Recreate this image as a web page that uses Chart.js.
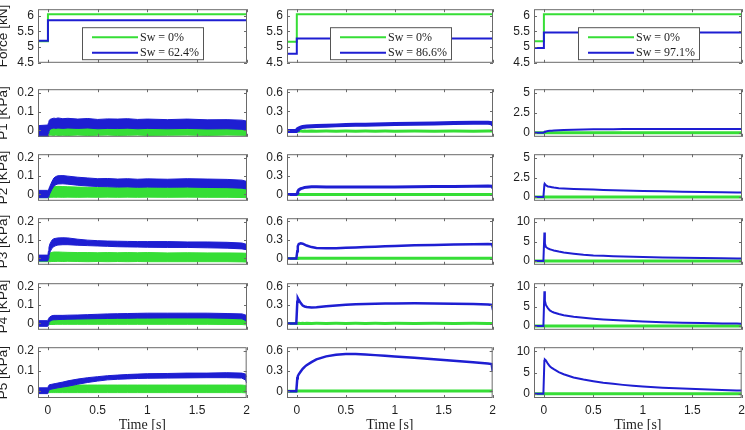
<!DOCTYPE html>
<html><head><meta charset="utf-8">
<script src="https://cdn.jsdelivr.net/npm/chart.js@4/dist/chart.umd.min.js"></script>
<style>
html,body{margin:0;padding:0;background:#fff;width:745px;height:430px;overflow:hidden;position:relative}
.p{position:absolute}
.p canvas{display:block}
</style></head><body>
<script>
// ---------------- DATA ----------------
const time = [-0.1, -0.005, 0, 0.005, 0.01, 0.02, 0.04, 0.06, 0.08, 0.1, 0.15, 0.2, 0.3, 0.4, 0.5, 0.6, 0.7, 0.8, 0.9, 1.0, 1.2, 1.4, 1.6, 1.8, 1.95, 1.99, 2.0];
const forceTime = [-0.1, 0, 0, 2];
const xTicks = [0, 0.5, 1, 1.5, 2];
const forceTicks = [4.5, 5, 5.5, 6];
const col1Ticks = [0, 0.1, 0.2];
const col2Ticks = [0, 0.3, 0.6];
const col3LowTicks = [0, 2.5, 5];
const col3HighTicks = [0, 5, 10];
const dryLabel = "Sw = 0%";
const wetLabels = ["Sw = 62.4%", "Sw = 86.6%", "Sw = 97.1%"];
const yTitles = ["Force [kN]", "P1 [KPa]", "P2 [KPa]", "P3 [KPa]", "P4 [KPa]", "P5 [KPa]"];
const xTitle = "Time [s]";

// Force (kN)
const forceDry62 = [5.18, 5.18, 6.04, 6.04];
const forceWet62 = [5.2, 5.2, 5.85, 5.85];
const forceDry87 = [5.17, 5.17, 6.04, 6.04];
const forceWet87 = [4.79, 4.79, 5.27, 5.27];
const forceDry97 = [5.18, 5.18, 6.04, 6.04];
const forceWet97 = [4.97, 4.97, 5.46, 5.46];

// Sw = 62.4% column: noisy signals as lower / upper envelopes (kPa)
const p1WetHi62 = [0.025, 0.028, 0.03, 0.04, 0.05, 0.058, 0.062, 0.065, 0.063, 0.066, 0.062, 0.064, 0.06, 0.063, 0.058, 0.061, 0.06, 0.062, 0.058, 0.06, 0.057, 0.06, 0.056, 0.057, 0.054, 0.05, 0.045];
const p1WetLo62 = [-0.035, -0.035, -0.03, -0.015, -0.005, 0.005, 0.01, 0.012, 0.01, 0.012, 0.01, 0.012, 0.01, 0.012, 0.008, 0.01, 0.009, 0.011, 0.008, 0.01, 0.008, 0.01, 0.007, 0.008, 0.005, 0.0, -0.005];
const p1DryHi62 = [0.0, 0.0, 0.005, 0.01, 0.015, 0.018, 0.02, 0.02, 0.018, 0.02, 0.018, 0.02, 0.018, 0.02, 0.016, 0.02, 0.018, 0.02, 0.017, 0.02, 0.017, 0.018, 0.016, 0.017, 0.015, 0.012, 0.01];
const p1DryLo62 = [-0.03, -0.03, -0.03, -0.028, -0.028, -0.026, -0.027, -0.028, -0.026, -0.028, -0.027, -0.028, -0.026, -0.028, -0.027, -0.026, -0.028, -0.027, -0.026, -0.028, -0.027, -0.026, -0.028, -0.026, -0.027, -0.028, -0.03];

const p2WetHi62 = [0.022, 0.022, 0.022, 0.025, 0.032, 0.045, 0.07, 0.09, 0.098, 0.102, 0.103, 0.1, 0.094, 0.09, 0.086, 0.087, 0.084, 0.086, 0.083, 0.085, 0.083, 0.086, 0.084, 0.082, 0.078, 0.072, 0.066];
const p2WetLo62 = [-0.018, -0.018, -0.018, -0.015, -0.008, 0.005, 0.028, 0.045, 0.053, 0.057, 0.058, 0.056, 0.05, 0.046, 0.043, 0.042, 0.04, 0.041, 0.039, 0.04, 0.039, 0.04, 0.038, 0.037, 0.034, 0.03, 0.026];
const p2DryHi62 = [0.01, 0.01, 0.012, 0.02, 0.028, 0.035, 0.04, 0.042, 0.043, 0.044, 0.043, 0.042, 0.04, 0.039, 0.038, 0.039, 0.038, 0.039, 0.038, 0.038, 0.037, 0.038, 0.037, 0.037, 0.035, 0.032, 0.028];
const p2DryLo62 = [-0.018, -0.018, -0.018, -0.017, -0.017, -0.016, -0.016, -0.015, -0.016, -0.015, -0.016, -0.015, -0.016, -0.015, -0.016, -0.015, -0.016, -0.015, -0.016, -0.015, -0.016, -0.015, -0.016, -0.016, -0.017, -0.018, -0.02];

const p3WetHi62 = [0.018, 0.018, 0.02, 0.04, 0.06, 0.08, 0.1, 0.108, 0.11, 0.112, 0.113, 0.112, 0.105, 0.1, 0.097, 0.095, 0.094, 0.093, 0.092, 0.092, 0.092, 0.09, 0.09, 0.088, 0.084, 0.078, 0.068];
const p3WetLo62 = [-0.014, -0.014, -0.012, 0.0, 0.015, 0.035, 0.055, 0.065, 0.07, 0.073, 0.075, 0.075, 0.072, 0.07, 0.068, 0.066, 0.064, 0.063, 0.062, 0.061, 0.06, 0.06, 0.058, 0.056, 0.052, 0.048, 0.044];
const p3DryHi62 = [0.01, 0.01, 0.012, 0.02, 0.025, 0.03, 0.033, 0.035, 0.035, 0.035, 0.034, 0.033, 0.032, 0.032, 0.031, 0.032, 0.031, 0.032, 0.031, 0.032, 0.03, 0.031, 0.03, 0.03, 0.029, 0.028, 0.025];
const p3DryLo62 = [-0.018, -0.018, -0.018, -0.018, -0.018, -0.018, -0.017, -0.017, -0.017, -0.016, -0.017, -0.016, -0.017, -0.018, -0.017, -0.018, -0.017, -0.018, -0.017, -0.018, -0.018, -0.018, -0.018, -0.018, -0.019, -0.02, -0.02];

const p4WetHi62 = [0.015, 0.015, 0.018, 0.025, 0.03, 0.036, 0.042, 0.044, 0.044, 0.044, 0.044, 0.045, 0.046, 0.048, 0.05, 0.052, 0.053, 0.054, 0.055, 0.056, 0.056, 0.056, 0.056, 0.054, 0.052, 0.045, 0.02];
const p4WetLo62 = [-0.016, -0.016, -0.014, -0.005, 0.005, 0.012, 0.018, 0.02, 0.02, 0.021, 0.022, 0.023, 0.024, 0.025, 0.026, 0.027, 0.028, 0.028, 0.029, 0.029, 0.03, 0.03, 0.03, 0.028, 0.025, 0.015, -0.005];
const p4DryHi62 = [0.005, 0.005, 0.008, 0.015, 0.02, 0.025, 0.028, 0.03, 0.03, 0.03, 0.03, 0.03, 0.03, 0.031, 0.031, 0.032, 0.031, 0.032, 0.031, 0.032, 0.031, 0.032, 0.031, 0.03, 0.03, 0.028, 0.025];
const p4DryLo62 = [-0.012, -0.012, -0.01, -0.008, -0.007, -0.006, -0.006, -0.006, -0.005, -0.005, -0.005, -0.005, -0.005, -0.005, -0.005, -0.005, -0.005, -0.005, -0.005, -0.005, -0.005, -0.005, -0.005, -0.006, -0.006, -0.008, -0.01];

const p5WetHi62 = [0.016, 0.016, 0.018, 0.025, 0.03, 0.032, 0.034, 0.036, 0.038, 0.04, 0.045, 0.051, 0.06, 0.067, 0.072, 0.077, 0.08, 0.083, 0.085, 0.087, 0.088, 0.09, 0.09, 0.092, 0.09, 0.085, 0.07];
const p5WetLo62 = [-0.013, -0.013, -0.01, 0.0, 0.005, 0.008, 0.01, 0.012, 0.014, 0.016, 0.02, 0.024, 0.034, 0.043, 0.05, 0.056, 0.059, 0.061, 0.063, 0.064, 0.065, 0.066, 0.067, 0.067, 0.065, 0.055, 0.04];
const p5DryHi62 = [0.005, 0.005, 0.008, 0.015, 0.02, 0.025, 0.028, 0.03, 0.03, 0.03, 0.03, 0.03, 0.03, 0.03, 0.03, 0.03, 0.03, 0.03, 0.03, 0.03, 0.03, 0.03, 0.03, 0.03, 0.03, 0.028, 0.025];
const p5DryLo62 = [-0.01, -0.01, -0.009, -0.008, -0.008, -0.008, -0.008, -0.008, -0.008, -0.008, -0.008, -0.008, -0.008, -0.008, -0.008, -0.008, -0.008, -0.008, -0.008, -0.008, -0.008, -0.008, -0.008, -0.008, -0.008, -0.009, -0.01];

// Sw = 86.6% column (kPa)
const p1Wet87 = [-0.01, -0.01, -0.01, 0.01, 0.02, 0.03, 0.045, 0.055, 0.06, 0.063, 0.068, 0.07, 0.075, 0.08, 0.084, 0.088, 0.091, 0.094, 0.097, 0.1, 0.105, 0.11, 0.116, 0.12, 0.123, 0.115, 0.08];
const p1Dry87 = [-0.005, -0.005, -0.005, -0.006, -0.008, -0.01, -0.01, -0.011, -0.01, -0.012, -0.01, -0.011, -0.01, -0.012, -0.01, -0.011, -0.01, -0.012, -0.01, -0.011, -0.01, -0.012, -0.01, -0.011, -0.01, -0.01, -0.01];
const p2Wet87 = [0, 0, 0, 0.02, 0.05, 0.075, 0.095, 0.105, 0.115, 0.12, 0.125, 0.126, 0.124, 0.122, 0.121, 0.121, 0.122, 0.122, 0.123, 0.124, 0.126, 0.129, 0.132, 0.136, 0.14, 0.135, 0.1];
const p2Dry87 = [0, 0, 0, 0.001, 0.002, 0.002, 0.001, 0.002, 0.001, 0.002, 0.001, 0.002, 0.001, 0.002, 0.001, 0.002, 0.001, 0.002, 0.001, 0.002, 0.001, 0.002, 0.001, 0.002, 0.001, 0.001, 0.0];
const p3Wet87 = [0, 0, 0, 0.12, 0.2, 0.235, 0.247, 0.24, 0.225, 0.21, 0.185, 0.17, 0.165, 0.168, 0.174, 0.18, 0.186, 0.192, 0.198, 0.204, 0.213, 0.22, 0.226, 0.232, 0.236, 0.232, 0.18];
const p3Dry87 = [0, 0, 0, 0.003, 0.005, 0.005, 0.004, 0.005, 0.004, 0.005, 0.004, 0.005, 0.004, 0.005, 0.004, 0.005, 0.004, 0.005, 0.004, 0.005, 0.004, 0.005, 0.004, 0.005, 0.004, 0.004, 0.003];
const p4Wet87 = [0, 0, 0, 0.35, 0.41, 0.38, 0.33, 0.29, 0.275, 0.266, 0.26, 0.262, 0.278, 0.292, 0.302, 0.31, 0.316, 0.32, 0.323, 0.325, 0.326, 0.324, 0.32, 0.314, 0.308, 0.3, 0.22];
const p4Dry87 = [0, 0, 0, 0.002, 0.003, 0.004, 0.003, 0.004, 0.003, 0.004, 0.003, 0.004, 0.003, 0.004, 0.003, 0.004, 0.003, 0.004, 0.003, 0.004, 0.003, 0.004, 0.003, 0.004, 0.003, 0.003, 0.002];
const p5Wet87 = [0, 0, 0, 0.19, 0.22, 0.25, 0.29, 0.33, 0.36, 0.385, 0.43, 0.47, 0.515, 0.54, 0.55, 0.549, 0.542, 0.533, 0.523, 0.513, 0.493, 0.472, 0.45, 0.428, 0.41, 0.4, 0.3];
const p5Dry87 = [0, 0, 0, 0.002, 0.003, 0.004, 0.003, 0.004, 0.003, 0.004, 0.003, 0.004, 0.003, 0.004, 0.003, 0.004, 0.003, 0.004, 0.003, 0.004, 0.003, 0.004, 0.003, 0.004, 0.003, 0.003, 0.002];

// Sw = 97.1% column (kPa)
const p1Wet97 = [0, 0, 0, 0.1, 0.15, 0.18, 0.22, 0.25, 0.27, 0.29, 0.33, 0.36, 0.4, 0.42, 0.44, 0.45, 0.46, 0.47, 0.47, 0.48, 0.48, 0.48, 0.48, 0.48, 0.48, 0.48, 0.48];
const p1Dry97 = [0, 0, 0, 0, 0, 0, 0, 0, 0, 0, 0, 0, 0, 0, 0, 0, 0, 0, 0, 0, 0, 0, 0, 0, 0, 0, 0];
const p2Wet97 = [0, 0, 0, 1.6, 1.65, 1.5, 1.35, 1.3, 1.25, 1.2, 1.12, 1.08, 1.02, 0.98, 0.95, 0.9, 0.87, 0.83, 0.8, 0.77, 0.72, 0.68, 0.64, 0.6, 0.57, 0.56, 0.56];
const p2Dry97 = [0, 0, 0, 0, 0, 0, 0, 0, 0, 0, 0, 0, 0, 0, 0, 0, 0, 0, 0, 0, 0, 0, 0, 0, 0, 0, 0];
const p3Wet97 = [0, 0, 0, 7.3, 4.5, 3.6, 3.2, 3.0, 2.85, 2.7, 2.4, 2.15, 1.85, 1.6, 1.42, 1.3, 1.2, 1.12, 1.05, 0.98, 0.88, 0.8, 0.73, 0.67, 0.63, 0.62, 0.62];
const p3Dry97 = [0, 0, 0, 0, 0, 0, 0, 0, 0, 0, 0, 0, 0, 0, 0, 0, 0, 0, 0, 0, 0, 0, 0, 0, 0, 0, 0];
const p4Wet97 = [0, 0, 0, 8.9, 6.5, 5.4, 4.6, 4.0, 3.7, 3.45, 3.05, 2.75, 2.35, 2.08, 1.85, 1.65, 1.5, 1.38, 1.25, 1.12, 0.95, 0.84, 0.74, 0.65, 0.6, 0.58, 0.58];
const p4Dry97 = [0, 0, 0, 0, 0, 0, 0, 0, 0, 0, 0, 0, 0, 0, 0, 0, 0, 0, 0, 0, 0, 0, 0, 0, 0, 0, 0];
const p5Wet97 = [0, 0, 0, 7.8, 8.1, 7.9, 7.1, 6.5, 6.1, 5.8, 5.1, 4.6, 3.85, 3.35, 2.95, 2.6, 2.35, 2.1, 1.9, 1.72, 1.45, 1.22, 1.05, 0.9, 0.8, 0.76, 0.75];
const p5Dry97 = [0, 0, 0, 0, 0, 0, 0, 0, 0, 0, 0, 0, 0, 0, 0, 0, 0, 0, 0, 0, 0, 0, 0, 0, 0, 0, 0];

// ---------------- STYLE / LAYOUT ----------------
const BLUE = '#1e1ed2';
const GREEN = '#36de36';
const AXIS = '#6a6a6a';
const TEXT = '#1e1e1e';
const SANS = "'Liberation Sans', Arial, Helvetica, sans-serif";
const SERIF = "'Liberation Serif', 'Times New Roman', serif";
const colLeft = [38, 287, 534], colRight = [247, 493, 742];
const rowTop = [6, 86, 151, 215, 280, 344], rowBottom = [66, 140, 204, 268, 333, 398];

const pts = (xs, ys) => xs.map((x, i) => ({x: x, y: ys[i]}));

const framePlugin = {
  id: 'frame',
  afterDatasetsDraw(chart) {
    const {ctx, chartArea: a} = chart;
    const xs = chart.scales.x, ys = chart.scales.y;
    ctx.save();
    ctx.strokeStyle = AXIS; ctx.lineWidth = 1;
    ctx.strokeRect(a.left + 0.5, a.top + 0.5, a.right - a.left - 1, a.bottom - a.top - 1);
    ctx.beginPath();
    const tl = 3;
    xs.ticks.forEach(t => {
      const px = Math.round(xs.getPixelForValue(t.value)) + 0.5;
      ctx.moveTo(px, a.bottom); ctx.lineTo(px, a.bottom - tl);
      ctx.moveTo(px, a.top); ctx.lineTo(px, a.top + tl);
    });
    ys.ticks.forEach(t => {
      const py = Math.round(ys.getPixelForValue(t.value)) + 0.5;
      ctx.moveTo(a.left, py); ctx.lineTo(a.left + tl, py);
      ctx.moveTo(a.right, py); ctx.lineTo(a.right - tl, py);
    });
    ctx.stroke();
    ctx.restore();
  }
};

const boxLegendPlugin = {
  id: 'boxLegend',
  afterDraw(chart, args, opts) {
    if (!opts || !opts.show) return;
    const {ctx, chartArea: a} = chart;
    const items = [chart.data.datasets[1], chart.data.datasets[0]];
    const w = 121, h = 32;
    const left = Math.round((a.left + a.right) / 2 - w / 2);
    const top = a.top + 18;
    ctx.save();
    ctx.fillStyle = '#fff';
    ctx.fillRect(left, top, w, h);
    ctx.strokeStyle = '#555'; ctx.lineWidth = 1;
    ctx.strokeRect(left + 0.5, top + 0.5, w, h);
    ctx.font = '12px ' + SERIF;
    ctx.textBaseline = 'middle'; ctx.textAlign = 'left';
    items.forEach((ds, k) => {
      const yy = top + 10 + k * 15.5;
      ctx.strokeStyle = ds.borderColor; ctx.lineWidth = 2;
      ctx.beginPath(); ctx.moveTo(left + 10, yy); ctx.lineTo(left + 56, yy); ctx.stroke();
      ctx.fillStyle = TEXT;
      ctx.fillText(ds.label, left + 58, yy + 0.5);
    });
    ctx.restore();
  }
};

const forceSets = [[forceDry62, forceWet62], [forceDry87, forceWet87], [forceDry97, forceWet97]];
const bands62 = [
  [p1WetHi62, p1WetLo62, p1DryHi62, p1DryLo62],
  [p2WetHi62, p2WetLo62, p2DryHi62, p2DryLo62],
  [p3WetHi62, p3WetLo62, p3DryHi62, p3DryLo62],
  [p4WetHi62, p4WetLo62, p4DryHi62, p4DryLo62],
  [p5WetHi62, p5WetLo62, p5DryHi62, p5DryLo62]
];
const lines87 = [[p1Wet87, p1Dry87], [p2Wet87, p2Dry87], [p3Wet87, p3Dry87], [p4Wet87, p4Dry87], [p5Wet87, p5Dry87]];
const lines97 = [[p1Wet97, p1Dry97], [p2Wet97, p2Dry97], [p3Wet97, p3Dry97], [p4Wet97, p4Dry97], [p5Wet97, p5Dry97]];

function lineDs(label, xs, ys, color, width) {
  return {label: label, data: pts(xs, ys), borderColor: color, backgroundColor: color, borderWidth: width, fill: false, pointRadius: 0, tension: 0};
}

function makePanel(col, row) {
  const L = colLeft[col], R = colRight[col], T = rowTop[row], B = rowBottom[row];
  const yW = col === 0 ? L + 5 : 32;
  const bottomRow = row === 5;
  const xH = bottomRow ? 36 : 0;
  const padB = bottomRow ? 0 : 8;
  const w = (R - L) + yW + 8;
  const h = 8 + (B - T) + xH + padB;
  const div = document.createElement('div');
  div.className = 'p';
  div.style.left = (L - yW) + 'px';
  div.style.top = (T - 8) + 'px';
  div.style.width = w + 'px';
  div.style.height = h + 'px';
  const cv = document.createElement('canvas');
  cv.width = w; cv.height = h;
  cv.style.width = w + 'px'; cv.style.height = h + 'px';
  div.appendChild(cv);
  document.body.appendChild(div);

  let datasets, yMin, yMax, yTicks;
  if (row === 0) {
    const [dry, wet] = forceSets[col];
    datasets = [lineDs(wetLabels[col], forceTime, wet, BLUE, 2), lineDs(dryLabel, forceTime, dry, GREEN, 2)];
    yMin = 4.5; yMax = 6.2; yTicks = forceTicks;
  } else if (col === 0) {
    const [wHi, wLo, dHi, dLo] = bands62[row - 1];
    datasets = [
      {label: wetLabels[0], data: pts(time, wHi), borderColor: BLUE, backgroundColor: BLUE, borderWidth: 1, fill: '+1', pointRadius: 0, tension: 0},
      {label: wetLabels[0], data: pts(time, wLo), borderColor: BLUE, backgroundColor: BLUE, borderWidth: 1, fill: false, pointRadius: 0, tension: 0},
      {label: dryLabel, data: pts(time, dHi), borderColor: GREEN, backgroundColor: GREEN, borderWidth: 1, fill: '+1', pointRadius: 0, tension: 0},
      {label: dryLabel, data: pts(time, dLo), borderColor: GREEN, backgroundColor: GREEN, borderWidth: 1, fill: false, pointRadius: 0, tension: 0}
    ];
    yMin = -0.035; yMax = 0.22; yTicks = col1Ticks;
  } else if (col === 1) {
    const [wet, dry] = lines87[row - 1];
    const bw = row === 1 ? 4 : (row === 2 ? 3 : 2.5);
    datasets = [lineDs(wetLabels[1], time, wet, BLUE, bw), lineDs(dryLabel, time, dry, GREEN, 3)];
    yMin = -0.1; yMax = 0.65; yTicks = col2Ticks;
  } else {
    const [wet, dry] = lines97[row - 1];
    datasets = [lineDs(wetLabels[2], time, wet, BLUE, 2), lineDs(dryLabel, time, dry, GREEN, 3)];
    if (row <= 2) { yMin = -0.5; yMax = 5.5; yTicks = col3LowTicks; }
    else { yMin = -1; yMax = 11; yTicks = col3HighTicks; }
  }

  new Chart(cv, {
    type: 'line',
    data: {datasets: datasets},
    plugins: [framePlugin, boxLegendPlugin],
    options: {
      responsive: false,
      animation: false,
      events: [],
      devicePixelRatio: 1,
      layout: {padding: {left: 0, top: 8, right: 8, bottom: padB}},
      plugins: {
        legend: {display: false},
        tooltip: {enabled: false},
        boxLegend: {show: row === 0}
      },
      scales: {
        x: {
          type: 'linear', min: -0.1, max: 2,
          grid: {display: false, drawTicks: false},
          border: {display: false},
          afterBuildTicks: s => { s.ticks = xTicks.map(v => ({value: v})); },
          ticks: {display: bottomRow, padding: 5, maxRotation: 0, autoSkip: false,
                  font: {family: SANS, size: 12}, color: TEXT, callback: v => String(v)},
          title: {display: bottomRow, text: xTitle, font: {family: SERIF, size: 14}, color: TEXT, padding: 0},
          afterFit: s => { s.height = xH; }
        },
        y: {
          type: 'linear', min: yMin, max: yMax,
          grid: {display: false, drawTicks: false},
          border: {display: false},
          afterBuildTicks: s => { s.ticks = yTicks.map(v => ({value: v})); },
          ticks: {padding: 4, autoSkip: false, font: {family: SANS, size: 12}, color: TEXT, callback: v => String(v)},
          title: {display: col === 0, text: yTitles[row], font: {family: SANS, size: 13.5}, color: TEXT, padding: 0},
          afterFit: s => { s.width = yW; }
        }
      }
    }
  });
}

for (let c = 0; c < 3; c++) {
  for (let r = 0; r < 6; r++) makePanel(c, r);
}
</script>
</body></html>
